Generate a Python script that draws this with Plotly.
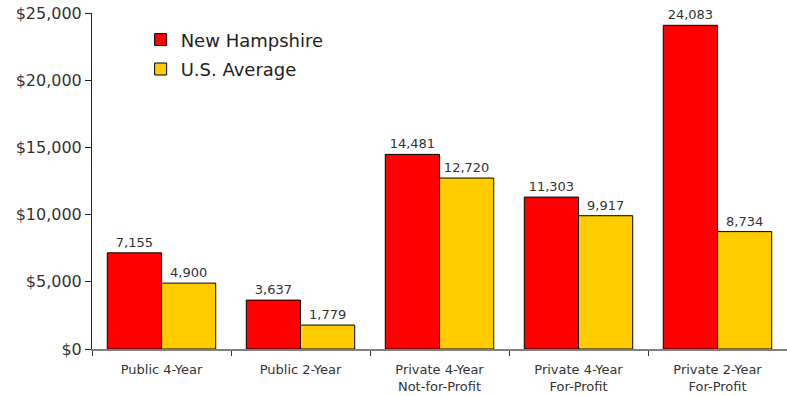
import plotly.graph_objects as go

categories = ["Public 4-Year", "Public 2-Year", "Private 4-Year<br>Not-for-Profit",
              "Private 4-Year<br>For-Profit", "Private 2-Year<br>For-Profit"]
nh_values = [7155, 3637, 14481, 11303, 24083]
us_values = [4900, 1779, 12720, 9917, 8734]
y_tickvals = [0, 5000, 10000, 15000, 20000, 25000]
y_ticktext = ["$0", "$5,000", "$10,000", "$15,000", "$20,000", "$25,000"]

FONT = "DejaVu Sans"

fig = go.Figure()
fig.add_trace(go.Bar(
    x=categories, y=nh_values, name="New Hampshire", legendgroup="nh",
    marker=dict(color="#FF0000", line=dict(color="black", width=1)),
    text=[f"{v:,}" for v in nh_values], textposition="outside",
    textfont=dict(family=FONT, size=13, color="#333333"), cliponaxis=False,
))
fig.add_trace(go.Bar(
    x=categories, y=us_values, name="U.S. Average", legendgroup="us",
    marker=dict(color="#FFCC00", line=dict(color="black", width=1)),
    text=[f"{v:,}" for v in us_values], textposition="outside",
    textfont=dict(family=FONT, size=13, color="#333333"), cliponaxis=False,
))

fig.update_layout(
    width=787, height=396,
    margin=dict(l=92, r=0, t=13, b=47),
    paper_bgcolor="white", plot_bgcolor="white",
    barmode="group", bargap=0.22, bargroupgap=0,
    font=dict(family=FONT, color="#333333"),
    showlegend=True,
    legend=dict(x=0.07, y=0.975, xanchor="left", yanchor="top",
                traceorder="grouped", tracegroupgap=3,
                font=dict(family=FONT, size=18, color="#222222"),
                bgcolor="rgba(0,0,0,0)"),
)
fig.update_xaxes(
    showline=True, linecolor="#808080", linewidth=2,
    ticks="outside", tickson="boundaries", ticklen=5, tickcolor="#333333",
    tickfont=dict(family=FONT, size=13, color="#333333"),
    ticklabelstandoff=7,
    showgrid=False, zeroline=False,
)
fig.update_yaxes(
    range=[0, 25000], tickvals=y_tickvals, ticktext=y_ticktext,
    showline=True, linecolor="#222222", linewidth=1,
    ticks="outside", ticklen=6, tickcolor="#222222",
    tickfont=dict(family=FONT, size=16, color="#333333"),
    showgrid=False, zeroline=False,
)

fig.write_html("out.html")
